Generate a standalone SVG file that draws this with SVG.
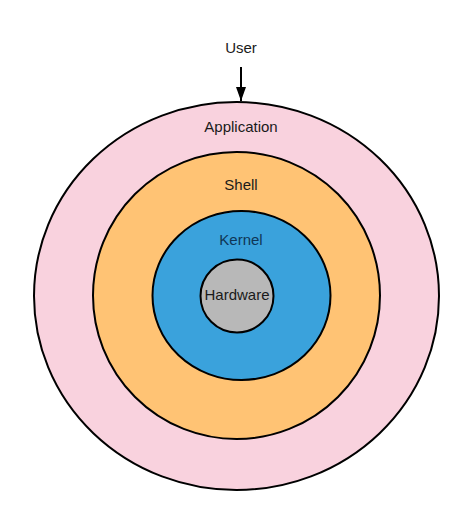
<svg xmlns="http://www.w3.org/2000/svg" width="474" height="524" viewBox="0 0 474 524">
<style>
.ring{stroke:#000;stroke-width:2}
.lbl{font-family:"Liberation Sans",Arial,sans-serif;font-size:15px;text-anchor:middle;fill:#1a1a1a}
</style>
<defs>
<marker id="ah" markerWidth="14" markerHeight="10" refX="14" refY="5" orient="auto" markerUnits="userSpaceOnUse" viewBox="0 0 14 10">
<path d="M0,0 L14,5 L0,10 Z" fill="#000"/>
</marker>
</defs>
<rect width="474" height="524" fill="#fff"/>
<g id="application">
<ellipse class="ring" cx="236.5" cy="296" rx="202.5" ry="194" fill="#f9d2de"/>
<text class="lbl" x="241" y="132">Application</text>
</g>
<g id="shell">
<circle class="ring" cx="236.5" cy="295.5" r="143.5" fill="#ffc374"/>
<text class="lbl" x="241" y="190">Shell</text>
</g>
<g id="kernel">
<ellipse class="ring" cx="241.5" cy="295.5" rx="89" ry="84.5" fill="#3aa2dc"/>
<text class="lbl" x="241" y="245" style="fill:#0f3656">Kernel</text>
</g>
<g id="hardware">
<circle class="ring" cx="237" cy="296" r="36.5" fill="#b8b8b8"/>
<text class="lbl" x="237" y="300">Hardware</text>
</g>
<g id="user">
<text class="lbl" x="241" y="53">User</text>
</g>
<g id="connectors">
<line x1="241" y1="67" x2="241" y2="101" stroke="#000" stroke-width="2" marker-end="url(#ah)"/>
</g>
</svg>
